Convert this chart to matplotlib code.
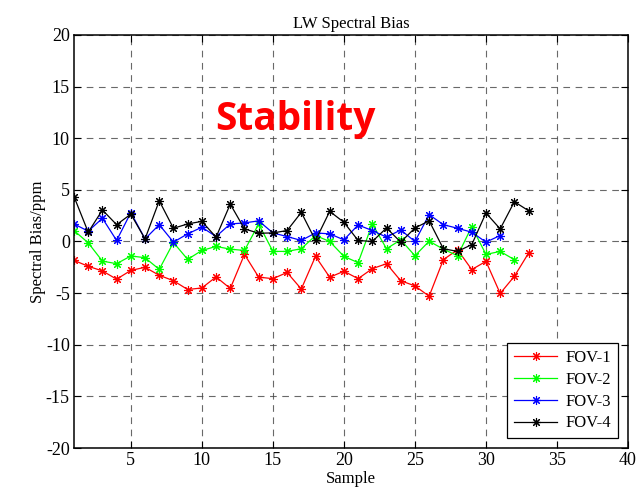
import matplotlib
matplotlib.use("Agg")
import matplotlib.pyplot as plt
import numpy as np

samples = list(range(1, 34))
fov1 = [-1.83, -2.4, -2.85, -3.65, -2.8, -2.5, -3.27, -3.8, -4.65, -4.5,
        -3.43, -4.55, -1.25, -3.45, -3.6, -3.0, -4.6, -1.44, -3.46, -2.88,
        -3.6, -2.63, -2.15, -3.8, -4.3, -5.3, -1.76, -0.8, -2.72, -1.92,
        -5.03, -3.37, -1.12]
fov2 = [1.06, -0.13, -1.9, -2.15, -1.4, -1.57, -2.7, -0.1, -1.73, -0.87,
        -0.48, -0.74, -0.87, 1.7, -0.96, -0.96, -0.7, 0.58, 0.0, -1.44,
        -2.05, 1.7, -0.7, 0.16, -1.38, 0.03, -0.74, -1.38, 1.44, -1.25,
        -0.96, -1.76]
fov3 = [1.7, 1.0, 2.25, 0.1, 2.8, 0.25, 1.63, -0.06, 0.74, 1.38,
        0.48, 1.7, 1.8, 2.0, 0.83, 0.48, 0.1, 0.83, 0.74, 0.16,
        1.6, 1.06, 0.42, 1.12, 0.0, 2.6, 1.63, 1.28, 0.9, -0.06,
        0.58]
fov4 = [4.35, 0.9, 3.05, 1.63, 2.65, 0.25, 3.94, 1.28, 1.7, 1.95,
        0.42, 3.62, 1.22, 0.8, 0.83, 1.06, 2.82, 0.1, 2.92, 1.86,
        0.1, 0.0, 1.31, -0.06, 1.31, 2.0, -0.7, -0.96, -0.3, 2.76,
        1.22, 3.85, 2.98]

series = [("FOV-1", fov1, "#ff0000"), ("FOV-2", fov2, "#00ff00"),
          ("FOV-3", fov3, "#0000ff"), ("FOV-4", fov4, "#000000")]

plt.rcParams["font.family"] = ["Liberation Serif", "DejaVu Serif"]
plt.rcParams["axes.unicode_minus"] = False

fig = plt.figure(figsize=(6.43, 4.92), dpi=100)
ax = fig.add_axes([0.1151, 0.0894, 0.8616, 0.8395])

asterisk = (8, 2, 0)
for name, vals, col in series:
    x = samples[:len(vals)]
    ax.plot(x, vals, color=col, lw=0.9, marker=asterisk, ms=6.5, mew=0.8,
            label=name)

ax.set_xlim(1, 40)
ax.set_ylim(-20, 20)
ax.set_xticks([5, 10, 15, 20, 25, 30, 35, 40])
ax.set_yticks(np.arange(-20, 21, 5))
ax.grid(True, color="#444444", linestyle=(0, (6, 5)), linewidth=0.8, alpha=0.8)
ax.tick_params(direction="in", top=True, right=True, labelsize=13, length=5,
               pad=3)
for s in ax.spines.values():
    s.set_linewidth(1.1)

ax.set_title("LW Spectral Bias", fontsize=12, pad=5)
ax.set_xlabel("Sample", fontsize=12, labelpad=1)
ax.set_ylabel("Spectral Bias/ppm", fontsize=12, labelpad=0)

ax.text(16.56, 10.8, "Stability", color="#ff0000", fontsize=28,
        fontweight="bold", family=["Open Sans", "DejaVu Sans"],
        ha="center", va="baseline")

leg = ax.legend(loc="lower right", fontsize=12, frameon=True, fancybox=False,
                edgecolor="black", framealpha=1, handlelength=2.6,
                handletextpad=0.5, borderaxespad=0.6, labelspacing=0.35,
                borderpad=0.4)
leg.get_frame().set_linewidth(0.9)

fig.savefig("out.png", dpi=100)
